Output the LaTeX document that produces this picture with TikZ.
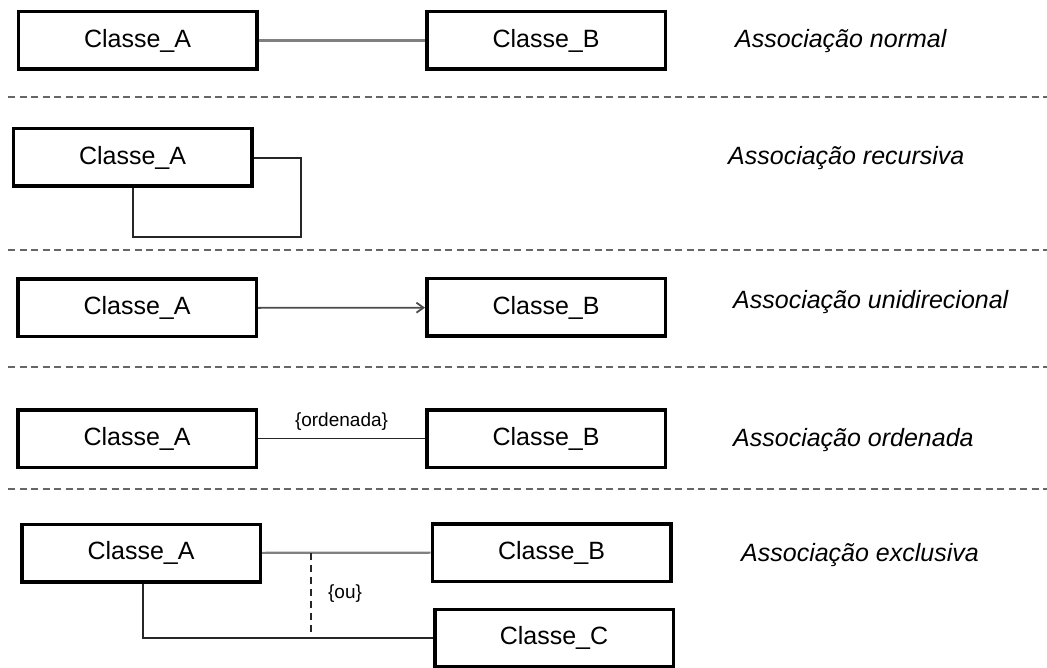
\documentclass[tikz,border=0pt]{standalone}
\usepackage{fontspec}
\setmainfont{Liberation Sans}
\usetikzlibrary{arrows.meta}
\begin{document}
\begin{tikzpicture}[x=1pt,y=-1pt,
  cls/.style={draw=black, line width=3.5pt, fill=white, minimum width=238.5pt,
    minimum height=57.5pt, inner sep=0pt, font=\fontsize{25}{25}\selectfont},
  kind/.style={anchor=west, inner sep=0pt, font=\fontsize{25}{25}\selectfont\itshape},
  sep/.style={draw=black!60, line width=2pt, dash pattern=on 7pt off 4.5pt},
  assoc/.style={line width=2.2pt, draw=black!50},
  thin/.style={line width=1.8pt, draw=black!85},
  tag/.style={inner sep=0pt, font=\fontsize{19}{19}\selectfont}]
\useasboundingbox[fill=white] (0,0) rectangle (1047,668);

% separators between the five kinds of association
\foreach \yy in {97,250,367,489}
  \draw[sep] (8,\yy) -- (1047,\yy);

% normal association
\node[cls] (a1) at (137.5,40.5) {Classe\_A};
\node[cls] (b1) at (546,40.5) {Classe\_B};
\draw[assoc] (a1) -- (b1);
\node[kind] (l1) at (735,41) {Associação normal};

% recursive association
\node[cls] (a2) at (132.5,157.5) {Classe\_A};
\coordinate (r1) at (301,158);
\coordinate (r2) at (301,237);
\coordinate (r3) at (133,237);
\draw[thin] (a2.east |- r1) -- (r1) -- (r2) -- (r3) -- (r3 |- a2.south);
\node[kind] (l2) at (728,158) {Associação recursiva};

% unidirectional association
\node[cls] (a3) at (137,308) {Classe\_A};
\node[cls] (b3) at (546,307.5) {Classe\_B};
\draw[thin, draw=black!70, -{Straight Barb[length=7pt,width=10pt]}] (a3) -- (b3);
\node[kind] (l3) at (733,302) {Associação unidirecional};

% ordered association
\node[cls] (a4) at (137,438.5) {Classe\_A};
\node[cls] (b4) at (546,438.5) {Classe\_B};
\draw[thin] (a4) -- node[tag, above=7pt] (o4) {\{ordenada\}} (b4);
\node[kind] (l4) at (733,440) {Associação ordenada};

% exclusive association
\node[cls] (a5) at (141,553) {Classe\_A};
\node[cls] (b5) at (551.5,552.5) {Classe\_B};
\node[cls] (c5) at (554,638) {Classe\_C};
\draw[assoc] (a5) -- (b5);
\coordinate (k5) at (143,638);
\draw[thin] (k5 |- a5.south) -- (k5) -- (c5.west |- k5);
\coordinate (x5) at (311,553);
\draw[thin, dash pattern=on 7pt off 5pt] (x5) -- (x5 |- k5);
\node[tag] (o5) at (345,594) {\{ou\}};
\node[kind] (l5) at (741,555) {Associação exclusiva};
\end{tikzpicture}
\end{document}
